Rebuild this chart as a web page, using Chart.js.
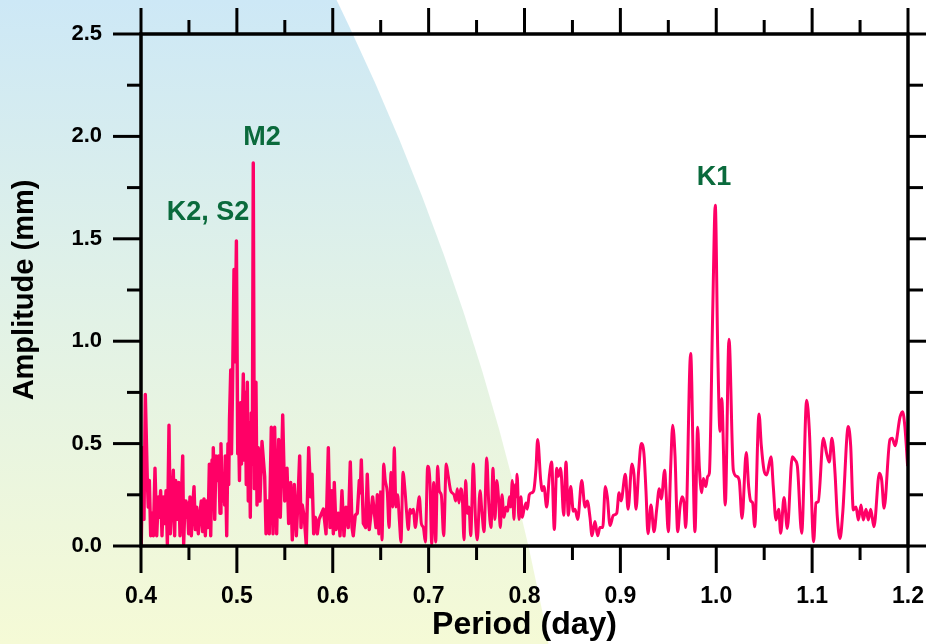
<!DOCTYPE html>
<html><head><meta charset="utf-8">
<script src="https://cdn.jsdelivr.net/npm/chart.js@4.4.1/dist/chart.umd.min.js"></script>
<style>html,body{margin:0;padding:0;background:#fff;}canvas{display:block;}</style>
</head><body>
<canvas id="c" width="926" height="644"></canvas>
<script>
// ---- data ----
const period = [
0.4000,0.4003,0.4017,0.4031,0.4045,0.4066,0.4076,0.4087,0.4101,0.4115,0.4129,0.4146,0.4164,0.4181,0.4191,0.4205,0.4219,0.4233,0.4247,0.4261,
0.4275,0.4292,0.4306,0.4320,0.4337,0.4351,0.4362,0.4375,0.4393,0.4407,0.4420,0.4435,0.4445,0.4459,0.4469,0.4483,0.4497,0.4511,0.4525,0.4539,
0.4553,0.4567,0.4581,0.4598,0.4615,0.4629,0.4643,0.4657,0.4671,0.4685,0.4699,0.4713,0.4727,0.4741,0.4747,0.4754,0.4769,0.4782,0.4796,0.4810,
0.4824,0.4834,0.4848,0.4866,0.4872,0.4879,0.4894,
0.4907,0.4915,0.4923,0.4936,0.4944,0.4954,0.4970,0.4980,0.4995,0.5009,0.5017,0.5027,0.5038,0.5048,0.5067,0.5077,0.5088,0.5098,0.5109,0.5119,
0.5130,0.5140,0.5150,0.5161,0.5171,0.5182,0.5191,0.5199,0.5210,0.5223,0.5241,
0.5262,0.5290,0.5304,0.5321,0.5338,0.5359,0.5377,0.5394,0.5415,0.5436,0.5453,0.5478,0.5499,0.5523,0.5540,0.5561,0.5578,0.5599,0.5620,0.5634,
0.5655,0.5669,0.5682,0.5703,0.5724,0.5749,0.5770,0.5784,0.5801,0.5818,0.5839,0.5857,
0.5902,0.5930,0.5954,0.5971,0.5989,0.6006,0.6016,0.6034,0.6058,0.6076,0.6096,0.6117,0.6138,0.6162,0.6183,0.6201,0.6214,0.6235,0.6256,0.6277,
0.6287,0.6298,0.6319,0.6344,0.6360,0.6381,0.6399,0.6416,0.6451,0.6465,0.6482,0.6503,0.6514,0.6531,0.6548,0.6569,0.6587,0.6608,0.6625,0.6642,
0.6660,0.6677,0.6694,0.6712,0.6733,0.6754,0.6771,0.6788,0.6806,0.6819,0.6840,0.6861,0.6882,0.6903,0.6924,0.6945,0.6966,0.6990,0.7014,0.7032,
0.7053,0.7074,0.7094,0.7111,0.7132,0.7157,0.7184,0.7205,0.7230,0.7265,0.7282,0.7299,0.7317,0.7334,0.7351,0.7369,0.7387,0.7404,0.7421,0.7439,
0.7466,0.7491,0.7508,0.7536,0.7557,0.7578,0.7606,0.7627,0.7651,0.7671,0.7692,0.7710,0.7731,0.7748,0.7765,0.7786,0.7807,0.7825,0.7842,0.7856,
0.7873,0.7890,0.7904,0.7915,0.7922,0.7943,0.7963,0.7977,0.7995,0.8016,0.8029,0.8050,0.8075,0.8096,0.8120,0.8137,
0.8169,0.8186,0.8203,0.8231,0.8259,0.8283,0.8311,0.8336,0.8353,0.8377,0.8409,0.8433,0.8457,0.8482,0.8509,0.8527,0.8555,0.8597,0.8631,0.8655,
0.8683,0.8704,0.8735,0.8763,0.8787,0.8816,0.8843,0.8864,0.8892,0.8927,0.8962,0.8986,0.9007,0.9052,0.9080,0.9121,0.9142,0.9163,0.9191,0.9218,
0.9246,0.9267,0.9288,0.9319,0.9351,0.9379,0.9406,0.9427,0.9462,0.9476,0.9500,0.9525,0.9546,0.9570,0.9598,0.9622,0.9643,0.9664,0.9681,
0.9733,0.9778,0.9806,0.9823,0.9848,0.9865,0.9890,0.9911,0.9928,0.9963,0.9990,1.0015,1.0039,1.0057,1.0094,1.0133,1.0178,1.0213,1.0240,1.0269,
1.0313,1.0338,1.0359,1.0380,1.0401,1.0446,1.0470,1.0498,1.0526,1.0571,1.0595,1.0623,1.0651,1.0672,1.0707,1.0741,1.0793,1.0821,1.0846,1.0891,
1.0943,1.0971,1.1016,1.1040,1.1064,1.1117,1.1152,1.1179,1.1207,1.1239,1.1263,1.1291,1.1319,1.1377,1.1402,1.1430,1.1458,1.1482,1.1510,1.1534,
1.1562,1.1586,1.1611,1.1645,1.1701,1.1726,1.1750,1.1812,1.1836,1.1864,1.1917,1.1944,1.1968,1.1996
];
const amplitude = [
0.34,0.01,0.48,0.13,0.74,0.32,0.19,0.32,0.05,0.16,0.05,0.38,0.05,0.24,0.14,0.27,0.05,0.24,0.11,0.27,
0.01,0.59,0.06,0.19,0.37,0.05,0.32,0.13,0.31,0.05,0.21,0.44,0.01,0.22,0.14,0.21,0.06,0.24,0.05,0.19,
0.29,0.08,0.19,0.06,0.16,0.22,0.07,0.23,0.05,0.22,0.09,0.40,0.05,0.42,0.25,0.48,0.13,0.44,0.32,0.44,
0.16,0.50,0.22,0.32,0.20,0.44,0.05,
0.50,0.30,0.62,0.86,0.45,0.75,1.35,0.90,1.49,0.45,0.60,0.32,0.70,0.40,0.84,0.42,0.75,0.30,0.80,0.22,
0.60,0.14,0.65,0.40,1.87,0.28,0.50,0.80,0.20,0.48,0.22,
0.51,0.34,0.06,0.22,0.06,0.58,0.06,0.58,0.06,0.52,0.14,0.64,0.22,0.38,0.11,0.31,0.03,0.30,0.05,0.19,
0.44,0.09,0.20,0.14,0.005,0.48,0.24,0.35,0.06,0.14,0.06,0.13,
0.18,0.06,0.48,0.09,0.27,0.06,0.31,0.08,0.16,0.05,0.27,0.05,0.19,0.09,0.41,0.09,0.05,0.15,0.16,0.32,
0.26,0.42,0.11,0.09,0.35,0.08,0.16,0.24,0.09,0.25,0.06,0.27,0.03,0.40,0.32,0.26,0.09,0.36,0.19,0.48,
0.19,0.25,0.13,0.02,0.36,0.27,0.16,0.08,0.18,0.16,0.18,0.09,0.17,0.24,0.11,0.09,0.02,0.39,0.31,0.01,
0.31,0.02,0.39,0.27,0.25,0.05,0.40,0.34,0.27,0.25,0.22,0.28,0.21,0.28,0.24,0.03,0.32,0.16,0.19,0.05,
0.40,0.11,0.03,0.27,0.16,0.07,0.43,0.21,0.09,0.38,0.13,0.32,0.22,0.09,0.25,0.14,0.19,0.17,0.24,0.19,
0.32,0.13,0.30,0.24,0.35,0.13,0.24,0.14,0.18,0.21,0.18,0.25,0.26,0.27,0.38,0.52,
0.32,0.27,0.29,0.19,0.34,0.41,0.08,0.38,0.34,0.38,0.15,0.41,0.15,0.29,0.17,0.18,0.13,0.32,0.19,0.22,
0.14,0.05,0.12,0.05,0.09,0.09,0.29,0.24,0.10,0.15,0.16,0.26,0.22,0.35,0.18,0.40,0.35,0.18,0.37,0.50,
0.45,0.27,0.06,0.20,0.07,0.18,0.28,0.23,0.37,0.27,0.07,0.39,0.59,0.44,0.07,0.19,0.24,0.21,0.09,
0.94,0.07,0.58,0.39,0.26,0.33,0.29,0.34,0.355,1.14,1.664,0.97,0.56,0.72,0.20,1.01,0.37,0.34,0.32,0.135,
0.456,0.29,0.22,0.21,0.094,0.645,0.49,0.37,0.347,0.436,0.29,0.127,0.18,0.062,0.237,0.086,0.436,0.42,0.39,0.062,
0.712,0.565,0.021,0.21,0.216,0.526,0.45,0.41,0.526,0.355,0.14,0.037,0.16,0.583,0.49,0.176,0.19,0.127,0.2,0.127,
0.18,0.127,0.18,0.094,0.355,0.32,0.184,0.52,0.526,0.49,0.63,0.656,0.58,0.39
];
const xTicks = [0.4, 0.5, 0.6, 0.7, 0.8, 0.9, 1.0, 1.1, 1.2];
const xMinorTicks = [0.45, 0.55, 0.65, 0.75, 0.85, 0.95, 1.05, 1.15];
const yTicks = [0.0, 0.5, 1.0, 1.5, 2.0, 2.5];
const yMinorTicks = [0.25, 0.75, 1.25, 1.75, 2.25];
const peakLabels = ['K2, S2', 'M2', 'K1'];
const peakLabelPeriod = [0.4699, 0.5262, 0.9977];
const peakLabelAmp = [1.594, 1.958, 1.763];

const FONT = "'Liberation Sans', Arial, Helvetica, sans-serif";
const SPLIT = 0.6503; // short-period part drawn with straight segments, long-period part smoothed

const points = period.map((p, i) => ({x: p, y: amplitude[i]}));
const densePart = points.filter(pt => pt.x <= SPLIT);
const smoothPart = points.filter(pt => pt.x >= SPLIT);

const bgPlugin = {
  id: 'bg',
  beforeDraw(chart) {
    const ctx = chart.ctx, w = chart.width, h = chart.height;
    ctx.save();
    ctx.fillStyle = '#ffffff';
    ctx.fillRect(0, 0, w, h);
    ctx.beginPath();
    ctx.arc(-1915, 1098, 2505, 0, Math.PI * 2);
    ctx.clip();
    const g = ctx.createLinearGradient(0, 0, 0, h);
    g.addColorStop(0, '#cde8f6');
    g.addColorStop(0.5, '#e2f2e6');
    g.addColorStop(1, '#f5fad6');
    ctx.fillStyle = g;
    ctx.fillRect(0, 0, w, h);
    ctx.restore();
  }
};

const framePlugin = {
  id: 'frame',
  afterDraw(chart) {
    const ctx = chart.ctx;
    const {left, right, top, bottom} = chart.chartArea;
    const xs = chart.scales.x, ys = chart.scales.y;
    ctx.save();
    ctx.strokeStyle = '#000';
    ctx.lineCap = 'butt';
    ctx.lineWidth = 3;
    const seg = (x1, y1, x2, y2) => { ctx.beginPath(); ctx.moveTo(x1, y1); ctx.lineTo(x2, y2); ctx.stroke(); };
    xTicks.forEach(v => { const p = xs.getPixelForValue(v); seg(p, bottom, p, bottom + 27); seg(p, top, p, top - 26); });
    xMinorTicks.forEach(v => { const p = xs.getPixelForValue(v); seg(p, bottom, p, bottom + 14); seg(p, top, p, top - 14); });
    yTicks.forEach(v => { const p = ys.getPixelForValue(v); seg(left, p, left - 28, p); seg(right, p, right + 28, p); });
    yMinorTicks.forEach(v => { const p = ys.getPixelForValue(v); seg(left, p, left - 14, p); seg(right, p, right + 15, p); });
    ctx.lineWidth = 3.5;
    ctx.strokeRect(left, top, right - left, bottom - top);
    ctx.restore();
  }
};

const labelPlugin = {
  id: 'peakLabels',
  afterDatasetsDraw(chart) {
    const ctx = chart.ctx, xs = chart.scales.x, ys = chart.scales.y;
    ctx.save();
    ctx.fillStyle = '#0a6a3c';
    ctx.font = 'bold 27px ' + FONT;
    ctx.textAlign = 'center';
    ctx.textBaseline = 'alphabetic';
    peakLabels.forEach((t, i) => {
      ctx.fillText(t, xs.getPixelForValue(peakLabelPeriod[i]), ys.getPixelForValue(peakLabelAmp[i]));
    });
    ctx.restore();
  }
};

new Chart(document.getElementById('c'), {
  type: 'line',
  data: {
    datasets: [{
      data: densePart,
      borderColor: '#ff0066',
      borderWidth: 3.4,
      pointRadius: 0,
      fill: false,
      tension: 0,
      borderJoinStyle: 'round'
    }, {
      data: smoothPart,
      borderColor: '#ff0066',
      borderWidth: 3,
      pointRadius: 0,
      fill: false,
      cubicInterpolationMode: 'monotone'
    }]
  },
  options: {
    responsive: false,
    animation: false,
    devicePixelRatio: 1,
    layout: {padding: {top: 34, right: 18, left: 0, bottom: 0}},
    plugins: {legend: {display: false}, tooltip: {enabled: false}},
    scales: {
      x: {
        type: 'linear', min: 0.4, max: 1.2,
        afterBuildTicks: s => { s.ticks = xTicks.map(v => ({value: v})); },
        afterFit: s => { s.height = 98; s.paddingLeft = 0; s.paddingRight = 0; s.paddingTop = 0; s.paddingBottom = 0; },
        grid: {display: false, drawTicks: false},
        border: {display: false},
        ticks: {padding: 37, color: '#000', autoSkip: false, maxRotation: 0,
          font: {family: FONT, size: 23, weight: 'bold'},
          callback: v => Number(v).toFixed(1)},
        title: {display: true, text: 'Period (day)', color: '#000',
          font: {family: FONT, size: 32, weight: 'bold'}, padding: {top: 0, bottom: 0}}
      },
      y: {
        type: 'linear', min: 0, max: 2.5,
        afterBuildTicks: s => { s.ticks = yTicks.map(v => ({value: v})); },
        afterFit: s => { s.width = 141; s.paddingLeft = 0; s.paddingRight = 0; s.paddingTop = 0; s.paddingBottom = 0; },
        grid: {display: false, drawTicks: false},
        border: {display: false},
        ticks: {padding: 39, color: '#000', autoSkip: false,
          font: {family: FONT, size: 22, weight: 'bold'},
          callback: v => Number(v).toFixed(1)},
        title: {display: true, text: 'Amplitude (mm)', color: '#000',
          font: {family: FONT, size: 29, weight: 'bold'}, padding: {top: 8, bottom: 0}}
      }
    }
  },
  plugins: [bgPlugin, framePlugin, labelPlugin]
});
</script>
</body></html>
